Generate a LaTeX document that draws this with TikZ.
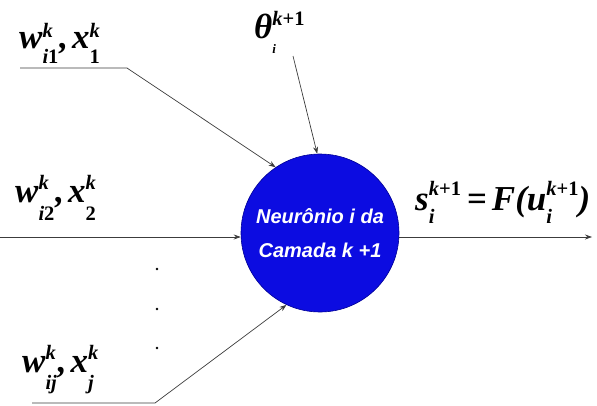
\documentclass[tikz,border=0pt]{standalone}
\usepackage{fontspec}
\setmainfont{Liberation Serif}
\setsansfont{Liberation Sans}
\usetikzlibrary{arrows.meta}
\newcommand{\scriptsz}{\fontsize{20.5}{21}\selectfont}
% stacked superscript / subscript: {raise}{lower}{sup}{sub}
\newcommand{\supsub}[4]{{\scriptsz\setbox0\hbox{#3}\setbox2\hbox{#4}%
  \dimen0=\wd0 \ifdim\wd2>\dimen0 \dimen0=\wd2 \fi
  \makebox[\dimen0][l]{\rlap{\raisebox{#1}{\box0}}\raisebox{-#2}{\box2}}}}
\definecolor{neuronblue}{RGB}{12,12,225}
\definecolor{neuronedge}{RGB}{0,0,150}
\definecolor{linegray}{RGB}{60,60,60}
\tikzset{
  lbl/.style={anchor=base west, inner sep=0pt, font=\fontsize{35}{40}\selectfont\bfseries\itshape},
  wire/.style={draw=linegray, line width=0.7pt},
  arr/.style={wire, -{Stealth[length=7pt,width=5pt]}},
  neuronstyle/.style={circle, fill=neuronblue, draw=neuronedge, line width=0.6pt,
    minimum size=158pt, inner sep=0pt, text=white, align=center,
    font=\sffamily\bfseries\itshape\fontsize{20}{36}\selectfont},
  dotmark/.style={circle, fill=black, inner sep=0pt, minimum size=2.6pt}
}
\begin{document}
\begin{tikzpicture}[x=1pt,y=-1pt]
\useasboundingbox (0,0) rectangle (597,405);
\node[neuronstyle] (neuron) at (320,233) {Neurônio i da\\[-2pt]Camada k +1};

\node[lbl] (l1) at (19,48) {w\supsub{11pt}{15pt}{k}{i\upshape 1}\kern1pt,\kern4pt x\supsub{11pt}{15pt}{k}{\upshape 1}};
\node[lbl] (l2) at (15,202) {w\supsub{13pt}{18pt}{k}{i\upshape 2}\kern1pt,\kern4pt x\supsub{13pt}{18pt}{k}{\upshape 2}};
\node[lbl] (l3) at (22,372) {w\supsub{13pt}{17pt}{k}{ij}\kern1pt,\kern4pt x\supsub{13pt}{17pt}{k}{j}};
\node[lbl] (lt) at (254,38) {θ\supsub{13pt}{15pt}{k{\upshape +1}}{\fontsize{13}{14}\selectfont i}};
\node[lbl] (ls) at (415,210) {s\supsub{15pt}{13pt}{k{\upshape +1}}{i}\kern6pt{\upshape =}\kern5pt F(u\supsub{15pt}{13pt}{k{\upshape +1}}{i})};

\coordinate (a1) at (20,68);
\coordinate (b1) at (127,68);
\coordinate (a2) at (0,237);
\coordinate (a3) at (32,403);
\coordinate (b3) at (155,403);
\coordinate (at) at (293,56);
\coordinate (out) at (592,237);

\draw[arr] (a1) -- (b1) -- (neuron.124);
\draw[arr] (a2) -- (neuron.west |- a2);
\draw[arr] (a3) -- (b3) -- (neuron.245);
\draw[arr] (at) -- (neuron.92);
\draw[arr] (neuron.east |- out) -- (out);

\node[dotmark] (d1) at (157,269) {};
\node[dotmark] (d2) at (157,309) {};
\node[dotmark] (d3) at (157,348) {};
\end{tikzpicture}
\end{document}
